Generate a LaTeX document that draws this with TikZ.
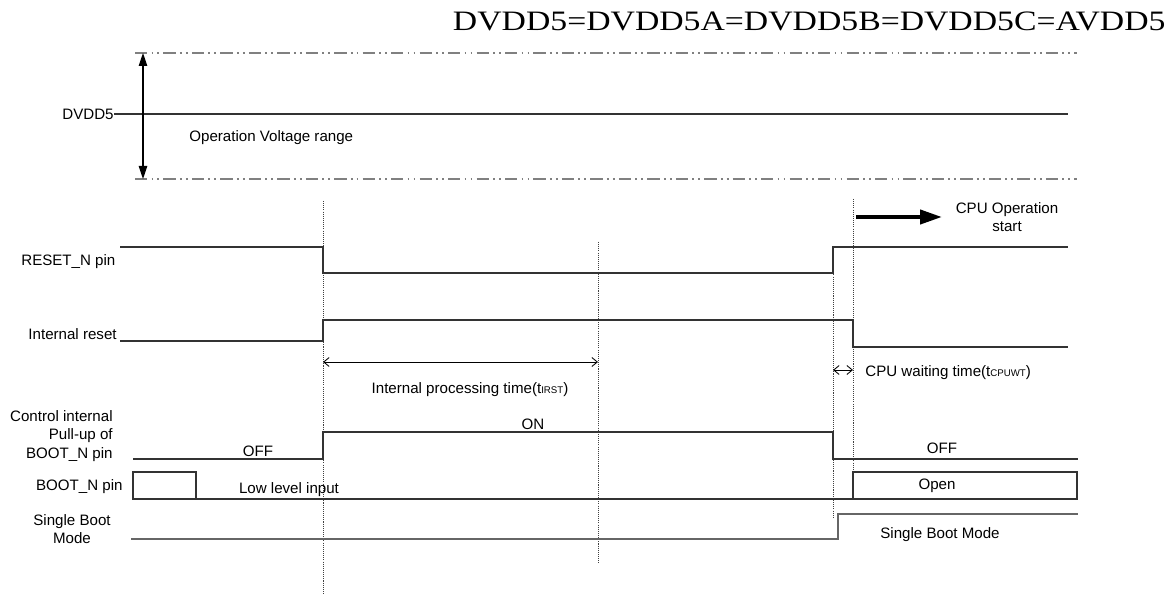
\documentclass[tikz,border=0pt]{standalone}
\usepackage{fontspec}
\setmainfont{Liberation Sans}
\newfontfamily\titlefont{Liberation Serif}
\usetikzlibrary{arrows.meta}

\begin{document}
\begin{tikzpicture}[x=0.02cm,y=-0.02cm,
  sig/.style={line width=0.7pt,black!80},
  lbl/.style={inner sep=0pt,font=\fontsize{8.6}{10.5}\selectfont},
  rng/.style={gray,line width=0.6pt,dash pattern=on 7pt off 2.4pt on 1pt off 2.4pt on 1pt off 2.4pt},
  vline/.style={line width=0.45pt,black!75,dash pattern=on 0.6pt off 0.6pt},
  span/.style={{Straight Barb[length=1.1mm,width=1.8mm]}-{Straight Barb[length=1.1mm,width=1.8mm]},line width=0.5pt}]
\useasboundingbox (0,0) rectangle (1173,594);
% title
\node[anchor=base east,inner sep=0pt,font=\titlefont\fontsize{16}{19}\selectfont] (title) at (1166,31) {\scalebox{1.2}[1]{DVDD5=DVDD5A=DVDD5B=DVDD5C=AVDD5}};
% voltage range
\coordinate (vtop) at (143,53);
\coordinate (vbot) at (143,179);
\draw[rng] (135,53) -- (1077,53);
\draw[rng] (135,179) -- (1077,179);
\node[lbl,anchor=east] (vdd) at (114,114) {DVDD5};
\draw[sig] (vdd.east) -- (1068,114);
\draw[{Triangle[length=2.6mm,width=1.7mm]}-{Triangle[length=2.6mm,width=1.7mm]},line width=0.6pt] (vtop) -- (vbot);
\node[lbl,anchor=west] (oprange) at (189,138) {Operation Voltage range};
% timing marks
\foreach \x/\a/\b in {323/201/594,598/242/563,833/247/517,853/199/472}
  \draw[vline] (\x,\a) -- (\x,\b);
% signals
\node[lbl,anchor=west] (rstn) at (21,262) {RESET\_N pin};
\draw[sig] (120,247) -| (323,273) -| (833,247) -- (1068,247);
\node[lbl,anchor=east] (irst) at (117,334) {Internal reset};
\draw[sig] (120,341) -| (323,320) -| (853,347) -- (1068,347);
\node[lbl,anchor=east,align=right] (pullup) at (113,436) {Control internal\\Pull-up of\\BOOT\_N pin};
\draw[sig] (133,459) -| (323,432) -| (833,459) -- (1078,459);
\node[lbl] (off1) at (258,451) {OFF};
\node[lbl] (on) at (533,424) {ON};
\node[lbl] (off2) at (942,448) {OFF};
\node[lbl,anchor=east] (bootn) at (123,487) {BOOT\_N pin};
\draw[sig] (133,472) rectangle (196,499);
\draw[sig] (196,499) -- (853,499);
\draw[sig] (853,472) rectangle (1077,499);
\node[lbl] (low) at (289,490) {Low level input};
\node[lbl] (open) at (937,486) {Open};
\node[lbl,align=center] (sbm) at (72,529) {Single Boot\\Mode};
\draw[sig,black!60] (131,539) -| (838,514) -- (1078,514);
\node[lbl] (sbm2) at (940,535) {Single Boot Mode};
% times
\coordinate (ta) at (323,362);
\coordinate (tb) at (598,362);
\draw[span] (ta) -- (tb);
\node[lbl] (tirst) at (470,390) {Internal processing time(t{\fontsize{5.5}{6}\selectfont IRST})};
\coordinate (tc) at (833,370);
\coordinate (td) at (853,370);
\draw[span] (tc) -- (td);
\node[lbl,anchor=west] (tcpu) at (865,373) {CPU waiting time(t{\fontsize{5.5}{6}\selectfont CPUWT})};
\coordinate (cs) at (856,217);
\coordinate (ce) at (942,217);
\draw[-{Triangle[length=4.4mm,width=2.8mm]},line width=2.3pt] (cs) -- (ce);
\node[lbl,align=center] (cpu) at (1007,217) {CPU Operation\\start};
\end{tikzpicture}
\end{document}
